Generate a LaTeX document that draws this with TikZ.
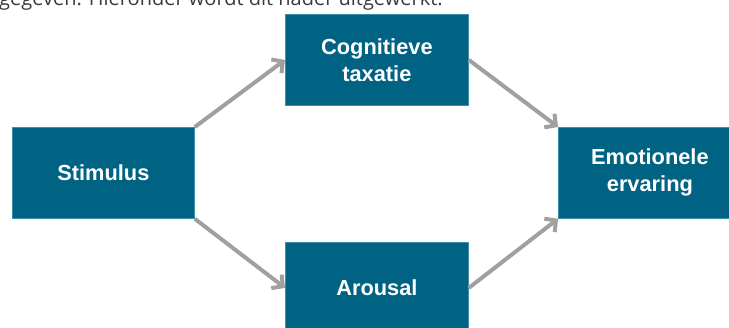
\documentclass[tikz,border=0pt]{standalone}
\usepackage{fontspec}
\setmainfont{Liberation Sans}
\newfontfamily\bodyfont{Open Sans}
\usetikzlibrary{arrows.meta}
\definecolor{boxfill}{HTML}{006384}
\definecolor{boxedge}{HTML}{3E8FA8}
\definecolor{arrowgray}{HTML}{A0A0A0}
\definecolor{bodytext}{HTML}{3A3A3A}
\tikzset{
  stagebox/.style={draw=boxedge, line width=0.8pt, fill=boxfill,
    minimum width=183pt, minimum height=91pt, inner sep=0pt,
    anchor=north west, align=center, text=white,
    font=\fontsize{21.8}{27}\selectfont\bfseries},
  flow/.style={draw=arrowgray, line width=4pt,
    -{Straight Barb[length=8pt, width=17pt, line width=4pt]}},
}
\begin{document}
\begin{tikzpicture}[x=1pt, y=-1pt]
  \useasboundingbox (0,0) rectangle (729,327);
  % running text of the page above the figure
  \node[anchor=base west, inner sep=0pt, text=bodytext,
        font=\bodyfont\fontsize{20}{24}\selectfont] (line) at (-1,5)
        {gegeven. Hieronder wordt dit nader uitgewerkt.};
  % the four stages
  \node[stagebox, minimum width=182pt] (stim) at (12,127) {Stimulus};
  \node[stagebox] (cog) at (285,14) {Cognitieve\\taxatie};
  \node[stagebox] (arou) at (285,242) {Arousal};
  \node[stagebox] (emo) at (558,127) {Emotionele\\ervaring};
  % connectors
  \draw[flow] (stim.north east) -- (cog.west);
  \draw[flow] (stim.south east) -- (arou.west);
  \draw[flow] (cog.east) -- (emo.north west);
  \draw[flow] (arou.east) -- (emo.south west);
\end{tikzpicture}
\end{document}
